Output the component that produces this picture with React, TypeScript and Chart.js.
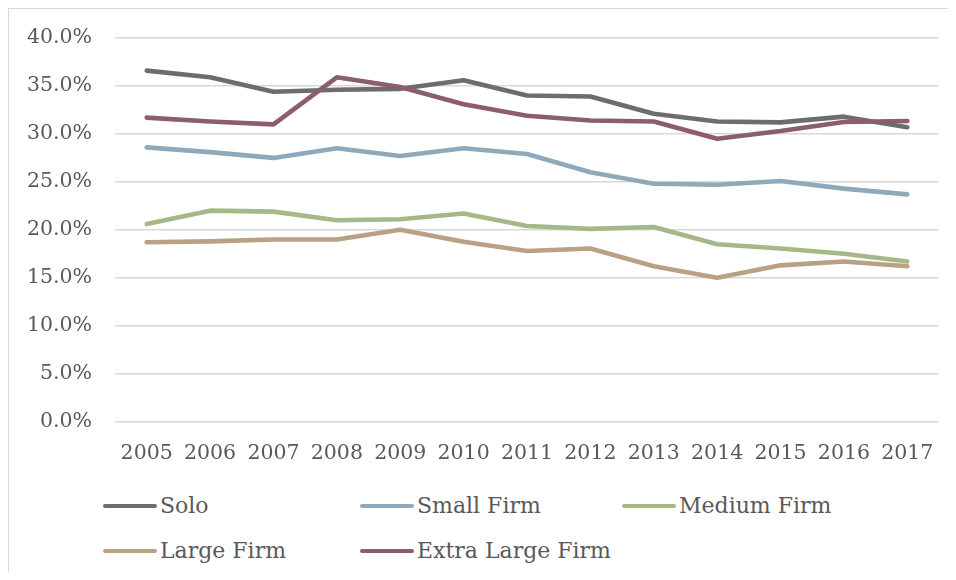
import React, { useEffect, useRef } from "react";
import { Chart, registerables } from "chart.js";

Chart.register(...registerables);

const years = ["2005", "2006", "2007", "2008", "2009", "2010", "2011", "2012", "2013", "2014", "2015", "2016", "2017"];
const seriesNames = ["Solo", "Small Firm", "Medium Firm", "Large Firm", "Extra Large Firm"];
const seriesColors = ["#6d6c71", "#8fa9bb", "#a6b888", "#b9a183", "#8b5d6d"];

const solo = [36.6, 35.9, 34.4, 34.6, 34.7, 35.6, 34.0, 33.9, 32.1, 31.3, 31.2, 31.8, 30.7];
const smallFirm = [28.6, 28.1, 27.5, 28.5, 27.7, 28.5, 27.9, 26.0, 24.8, 24.7, 25.1, 24.3, 23.7];
const mediumFirm = [20.6, 22.0, 21.9, 21.0, 21.1, 21.7, 20.4, 20.1, 20.3, 18.5, 18.05, 17.5, 16.7];
const largeFirm = [18.7, 18.8, 19.0, 19.0, 20.0, 18.75, 17.8, 18.05, 16.2, 15.0, 16.3, 16.7, 16.2];
const extraLargeFirm = [31.7, 31.3, 31.0, 35.9, 34.9, 33.1, 31.9, 31.4, 31.3, 29.5, 30.3, 31.25, 31.35];

const seriesValues = [solo, smallFirm, mediumFirm, largeFirm, extraLargeFirm];

const yMin = 0;
const yMax = 40;
const yStep = 5;

const FONT = "'DejaVu Serif', serif";
const TEXT = "#595959";

export default function App() {
  const canvasRef = useRef<HTMLCanvasElement | null>(null);

  useEffect(() => {
    const canvas = canvasRef.current;
    if (!canvas) return;
    const chart = new Chart(canvas, {
      type: "line",
      data: {
        labels: years,
        datasets: seriesNames.map((name, i) => ({
          label: name,
          data: seriesValues[i],
          borderColor: seriesColors[i],
          backgroundColor: seriesColors[i],
          borderWidth: 4.6,
          borderCapStyle: "round",
          borderJoinStyle: "round",
          pointRadius: 0,
          tension: 0,
          fill: false,
          order: seriesNames.length - i,
        })),
      },
      options: {
        animation: false,
        responsive: false,
        maintainAspectRatio: false,
        layout: { padding: { left: 0, right: 17, top: 29, bottom: 0 } },
        plugins: { legend: { display: false }, tooltip: { enabled: false } },
        scales: {
          x: {
            offset: true,
            grid: { display: false, drawTicks: false },
            border: { display: false },
            ticks: { color: TEXT, font: { family: FONT, size: 20.5 }, padding: 20, maxRotation: 0, autoSkip: false },
            afterFit: (s: any) => {
              s.height = 57.3;
            },
          },
          y: {
            min: yMin,
            max: yMax,
            grid: {
              color: "#d9d9d9",
              lineWidth: 1.5,
              drawTicks: true,
              tickLength: 23,
              tickColor: "rgba(0,0,0,0)",
            },
            border: { display: false },
            ticks: {
              stepSize: yStep,
              color: TEXT,
              font: { family: FONT, size: 20.5 },
              padding: 0,
              callback: (v: any) => Number(v).toFixed(1) + "%",
            },
            afterFit: (s: any) => {
              s.width = 106;
            },
          },
        },
      },
    });
    return () => chart.destroy();
  }, []);

  const legendCols = [94, 351, 613];
  const legendRows = [482, 527];

  return (
    <div
      style={{
        position: "relative",
        width: 947,
        height: 571,
        marginBottom: -8,
        borderTop: "1px solid #d9d9d9",
        borderLeft: "1px solid #d9d9d9",
        fontFamily: FONT,
      }}
    >
      <canvas ref={canvasRef} width={947} height={470} style={{ position: "absolute", left: 0, top: 0, width: 947, height: 470 }} />
      {seriesNames.map((name, i) => (
        <div
          key={name}
          style={{
            position: "absolute",
            left: legendCols[i % 3],
            top: legendRows[Math.floor(i / 3)],
            height: 30,
            display: "flex",
            alignItems: "center",
            whiteSpace: "nowrap",
          }}
        >
          <span
            style={{
              display: "inline-block",
              width: 54,
              height: 4.6,
              borderRadius: 3,
              background: seriesColors[i],
              marginRight: 3,
            }}
          />
          <span style={{ fontSize: 22, color: TEXT, lineHeight: "30px" }}>{name}</span>
        </div>
      ))}
    </div>
  );
}
